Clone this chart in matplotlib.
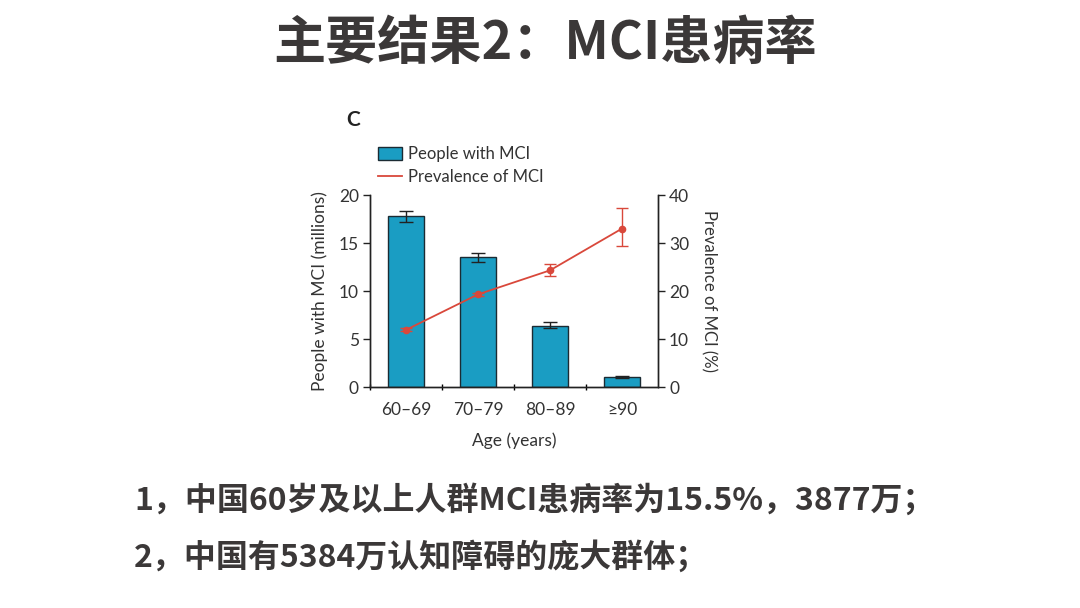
import matplotlib.pyplot as plt
import numpy as np
from matplotlib.lines import Line2D

plt.rcParams['font.family'] = ['Lato', 'DejaVu Sans']

ages = ['60–69', '70–79', '80–89', '≥90']
people = [17.8, 13.5, 6.4, 1.0]
people_lo = [17.2, 13.0, 6.1, 0.95]
people_hi = [18.3, 14.0, 6.8, 1.1]
prev = [11.9, 19.3, 24.3, 33.0]
prev_lo = [11.6, 19.0, 23.2, 29.3]
prev_hi = [12.2, 19.6, 25.6, 37.2]

bar_color = '#1a9dc3'
line_color = '#d9483b'
txt = '#333333'

fig = plt.figure(figsize=(10.8, 6.08), dpi=100)
ax = fig.add_axes([370 / 1080, 1 - 387 / 608, 288 / 1080, 192 / 608])
ax2 = ax.twinx()

x = np.arange(len(ages))
people = np.array(people)
perr = [people - np.array(people_lo), np.array(people_hi) - people]
ax.bar(x, people, 0.5, color=bar_color, edgecolor='#1b2b33', linewidth=1.0,
       label='People with MCI', zorder=2)
ax.errorbar(x, people, yerr=perr, fmt='none', ecolor='#222222', elinewidth=1.0,
            capsize=5, capthick=1.0, zorder=3)

prev = np.array(prev)
verr = [prev - np.array(prev_lo), np.array(prev_hi) - prev]
ax2.errorbar(x, prev, yerr=verr, color=line_color, lw=1.3, marker='o', ms=4.5,
             elinewidth=1.0, capsize=4, capthick=1.0, label='Prevalence of MCI')

ax.set_xlim(-0.5, 3.5)
ax.set_ylim(0, 20)
ax2.set_ylim(0, 40)
ax.set_yticks([0, 5, 10, 15, 20])
ax2.set_yticks([0, 10, 20, 30, 40])
ax.set_xticks(x)
ax.set_xticklabels(ages)
ax.set_xticks([-0.5, 0.5, 1.5, 2.5], minor=True)
ax.tick_params(axis='x', which='major', length=0, pad=11)
ax.tick_params(axis='x', which='minor', length=5, direction='inout', width=1.0)

for a in (ax, ax2):
    a.spines['top'].set_visible(False)
    for s in a.spines.values():
        s.set_color('#222222')
        s.set_linewidth(1.0)
    a.tick_params(axis='y', direction='out', length=5, width=1.0,
                  labelsize=12.5, colors='#222222', labelcolor=txt, pad=3)
ax.tick_params(axis='x', labelsize=12.5, labelcolor=txt)

ax.set_xlabel('Age (years)', fontsize=12.5, color=txt, labelpad=10)
ax.set_ylabel('People with MCI (millions)', fontsize=12.5, color=txt, labelpad=8)
ax2.set_ylabel('Prevalence of MCI (%)', fontsize=12, color=txt, rotation=-90,
               labelpad=20)

h1, l1 = ax.get_legend_handles_labels()
h2 = [Line2D([], [], color=line_color, lw=1.3)]
l2 = ['Prevalence of MCI']
fig.legend(h1 + h2, l1 + l2, loc='upper left', frameon=False,
           bbox_to_anchor=(370 / 1080, 1 - 138 / 608), fontsize=12,
           handlelength=1.4, handleheight=0.8, handletextpad=0.4,
           labelspacing=0.4, borderpad=0, labelcolor=txt)

fig.text(346 / 1080, 1 - 120 / 608, 'C', fontsize=15, fontweight='bold',
         color='#222222', va='center', ha='left')

cjk = ['Noto Sans CJK SC', 'DejaVu Sans']
fig.text(545 / 1080, 1 - 43 / 608, '主要结果2：MCI患病率', family=cjk,
         fontsize=37.5, fontweight='bold', color='#3b3838', ha='center', va='center')
fig.text(134 / 1080, 1 - 500 / 608, '1，中国60岁及以上人群MCI患病率为15.5%，3877万；',
         family=cjk, fontsize=23, fontweight='bold', color='#3b3838',
         ha='left', va='center')
fig.text(134 / 1080, 1 - 557 / 608, '2，中国有5384万认知障碍的庞大群体；',
         family=cjk, fontsize=23, fontweight='bold', color='#3b3838',
         ha='left', va='center')

fig.savefig('out.png', dpi=100, facecolor='white')
